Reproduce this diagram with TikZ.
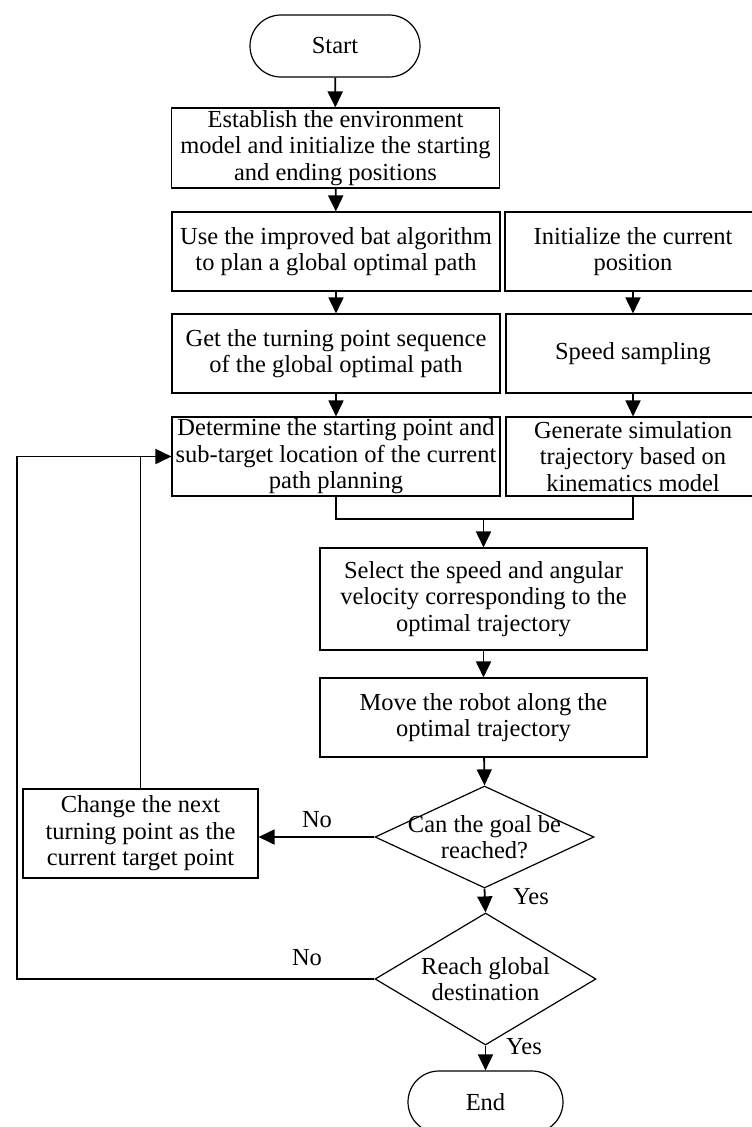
\documentclass[tikz,border=0pt]{standalone}
\usepackage{fontspec}
\setmainfont{Liberation Serif}
\usetikzlibrary{arrows.meta,shapes.geometric}
\begin{document}
\begin{tikzpicture}[x=1pt,y=-1pt,
  every node/.style={font=\fontsize{24.5}{26.5}\selectfont, inner sep=0pt},
  proc/.style={draw, line width=1.1pt, align=center, minimum width=#1},
  proc/.default=328,
  term/.style={draw, line width=1.2pt, rounded corners=31pt, minimum height=62pt},
  decision/.style={draw, line width=1.2pt, diamond, minimum width=#1},
  lbl/.style={font=\fontsize{24.5}{26.5}\selectfont},
  arr/.style={line width=1.8pt, -{Triangle[length=16pt,width=15pt]}},
  conn/.style={line width=1.8pt}
]
\useasboundingbox (0,0) rectangle (752,1127);
\fill[white] (0,0) rectangle (752,1127);
\clip (0,0) rectangle (752,1127);

\node[term, minimum width=170pt] (start) at (335,46) {Start};
\node[proc, minimum height=80pt] (b1) at (335.5,148) {Establish the environment\\model and initialize the starting\\and ending positions};
\node[proc, minimum height=79pt] (b2l) at (336,251.5) {Use the improved bat algorithm\\to plan a global optimal path};
\node[proc=256, minimum height=79pt] (b2r) at (633,251.5) {Initialize the current\\position};
\node[proc, minimum height=79pt] (b3l) at (336,353.5) {Get the turning point sequence\\of the global optimal path};
\node[proc=254, minimum height=79pt] (b3r) at (633,353.5) {Speed sampling};
\node[proc, minimum height=79pt] (b4l) at (336,456.5) {Determine the starting point and\\sub-target location of the current\\path planning};
\node[proc=254, minimum height=79pt] (b4r) at (633,456.5) {Generate simulation\\trajectory based on\\kinematics model};
\node[proc=327, minimum height=102pt] (b5) at (483.5,599) {Select the speed and angular\\velocity corresponding to the\\optimal trajectory};
\node[proc=327, minimum height=79pt] (b6) at (483.5,717.5) {Move the robot along the\\optimal trajectory};
\node[decision=219pt, minimum height=102pt, aspect=2.15] (d1) at (484.5,837) {};
\node[align=center] (d1t) at (d1.center) {Can the goal be\\reached?};
\node[proc=235, minimum height=89pt] (b7) at (140.5,833.5) {Change the next\\turning point as the\\current target point};
\node[decision=221pt, minimum height=132pt, aspect=1.67] (d2) at (485.5,979) {};
\node[align=center] (d2t) at (d2.center) {Reach global\\destination};
\node[term, minimum width=155pt] (end) at (485.5,1102) {End};

\coordinate (j) at (484,519);
\coordinate (L) at (17,0);

\draw[arr] (start) -- (b1);
\draw[arr] (b1) -- (b2l);
\draw[arr] (b2l) -- (b3l);
\draw[arr] (b3l) -- (b4l);
\draw[arr] (b2r) -- (b3r);
\draw[arr] (b3r) -- (b4r);
\draw[conn] (b4l.south) |- (b4r.south |- j) -- (b4r.south);
\draw[arr] (b5.north |- j) -- (b5.north);
\draw[arr] (b5) -- (b6);
\draw[arr] (b6) -- (d1.north);
\draw[arr] (d1.west) -- (b7.east |- d1.west);
\draw[arr] (b7.north) -- (b7.north |- b4l.west) -- (b4l.west);
\draw[conn] (d2.west) -| (L |- b4l.west) -- (b7.north |- b4l.west);
\draw[arr] (d1.south) -- (d2.north);
\draw[arr] (d2.south) -- (end.north);

\node[lbl] (no1) at (317,820) {No};
\node[lbl] (no2) at (307,958) {No};
\node[lbl] (yes1) at (531,897) {Yes};
\node[lbl] (yes2) at (524,1047) {Yes};
\end{tikzpicture}
\end{document}
